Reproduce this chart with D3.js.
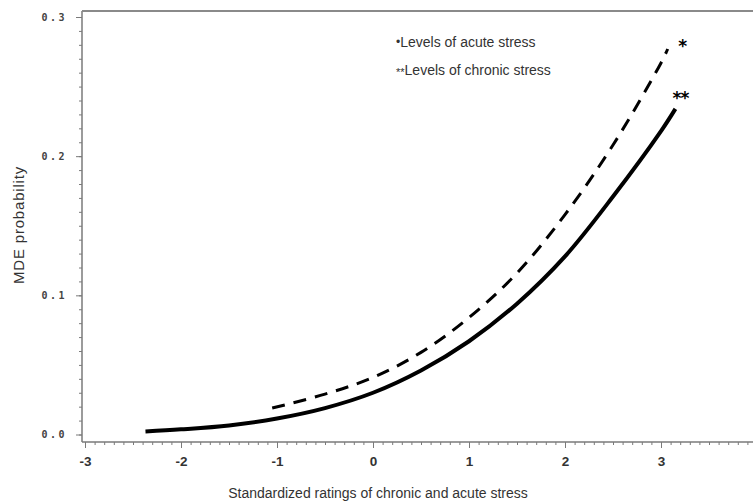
<!DOCTYPE html>
<html>
<head>
<meta charset="utf-8">
<script src="https://cdn.jsdelivr.net/npm/d3@7"></script>
<style>
  body { margin: 0; background: #fff; }
  svg { display: block; }
</style>
</head>
<body>
<div id="chart"></div>
<script>
// Values
const chronicX = [-2.37, -2.0, -1.5, -1.0, -0.5, 0.0, 0.5, 1.0, 1.5, 2.0, 2.5, 3.0, 3.15];
const chronicP = [0.0022, 0.0037, 0.0065, 0.0115, 0.019, 0.030, 0.046, 0.067, 0.094, 0.128, 0.171, 0.218, 0.234];
const acuteX = [-1.05, -0.5, 0.0, 0.5, 1.0, 1.5, 2.0, 2.5, 3.0, 3.07];
const acuteP = [0.019, 0.029, 0.041, 0.059, 0.084, 0.116, 0.158, 0.208, 0.267, 0.277];
const xTicks = [-3, -2, -1, 0, 1, 2, 3, 4];
const yTicks = [0.0, 0.1, 0.2, 0.3];
const legendLines = ["Levels of acute stress", "Levels of chronic stress"];

const width = 753;
const height = 504;
const plot = { left: 82, top: 11, right: 753, bottom: 442 };

const svg = d3.select("#chart")
    .append("svg")
    .attr("width", width)
    .attr("height", height);

const x = d3.scaleLinear().domain([-3, 4]).range([85, 757]);
const y = d3.scaleLinear().domain([0, 0.3]).range([434.5, 17]);

const axisColor = "#7a7a7a";

// frame: left, bottom and top lines
svg.append("line")
    .attr("x1", plot.left).attr("x2", plot.left)
    .attr("y1", plot.top).attr("y2", plot.bottom)
    .attr("stroke", axisColor).attr("stroke-width", 1.5);
svg.append("line")
    .attr("x1", plot.left).attr("x2", plot.right)
    .attr("y1", plot.bottom).attr("y2", plot.bottom)
    .attr("stroke", axisColor).attr("stroke-width", 1.5);
svg.append("line")
    .attr("x1", plot.left).attr("x2", plot.right)
    .attr("y1", plot.top).attr("y2", plot.top)
    .attr("stroke", "#8a8a8a").attr("stroke-width", 2);

// x axis: minor then major ticks
const xMinor = d3.range(-30, 41).map(d => d / 10);
svg.append("g")
    .attr("transform", `translate(0, ${plot.bottom})`)
    .call(d3.axisBottom(x).tickValues(xMinor).tickSize(3).tickFormat(""))
    .call(g => g.select(".domain").remove())
    .call(g => g.selectAll("line").attr("stroke", axisColor));

svg.append("g")
    .attr("transform", `translate(0, ${plot.bottom})`)
    .call(d3.axisBottom(x).tickValues(xTicks).tickSize(6).tickPadding(8)
        .tickFormat(d => d < 0 ? "-" + Math.abs(d) : d))
    .call(g => g.select(".domain").remove())
    .call(g => g.selectAll("line").attr("stroke", axisColor))
    .call(g => g.selectAll("text")
        .attr("fill", "#333")
        .attr("font-family", "Liberation Sans, Arial, sans-serif")
        .attr("font-weight", "bold")
        .attr("font-size", 13.5));

// y axis: minor then major ticks
const yMinor = d3.range(0, 31).map(d => d / 100);
svg.append("g")
    .attr("transform", `translate(${plot.left}, 0)`)
    .call(d3.axisLeft(y).tickValues(yMinor).tickSize(3).tickFormat(""))
    .call(g => g.select(".domain").remove())
    .call(g => g.selectAll("line").attr("stroke", axisColor));

svg.append("g")
    .attr("transform", `translate(${plot.left}, 0)`)
    .call(d3.axisLeft(y).tickValues(yTicks).tickSize(6).tickPadding(9)
        .tickFormat(d3.format(".1f")))
    .call(g => g.select(".domain").remove())
    .call(g => g.selectAll("line").attr("stroke", axisColor))
    .call(g => g.selectAll("text")
        .attr("fill", "#444")
        .attr("font-family", "DejaVu Sans Mono, monospace")
        .attr("font-weight", "bold")
        .attr("font-size", 10)
        .attr("letter-spacing", 2.5));

// axis titles
svg.append("text")
    .attr("x", 378)
    .attr("y", 498)
    .attr("text-anchor", "middle")
    .attr("fill", "#333")
    .attr("font-family", "Liberation Sans, Arial, sans-serif")
    .attr("font-size", 14)
    .text("Standardized ratings of chronic and acute stress");

svg.append("text")
    .attr("transform", "translate(24, 225) rotate(-90)")
    .attr("text-anchor", "middle")
    .attr("fill", "#333")
    .attr("font-family", "Liberation Sans, Arial, sans-serif")
    .attr("font-size", 15)
    .attr("letter-spacing", 0.8)
    .text("MDE probability");

// curves
const chronic = chronicX.map((v, i) => ({ x: v, p: chronicP[i] }));
const acute = acuteX.map((v, i) => ({ x: v, p: acuteP[i] }));

const line = d3.line()
    .x(d => x(d.x))
    .y(d => y(d.p))
    .curve(d3.curveCatmullRom.alpha(0.5));

svg.append("path")
    .datum(chronic)
    .attr("fill", "none")
    .attr("stroke", "#000")
    .attr("stroke-width", 4)
    .attr("d", line);

svg.append("path")
    .datum(acute)
    .attr("fill", "none")
    .attr("stroke", "#000")
    .attr("stroke-width", 3)
    .attr("stroke-dasharray", "13,9")
    .attr("d", line);

// end markers
const lastA = acute[acute.length - 1];
const lastC = chronic[chronic.length - 1];
svg.append("text")
    .attr("x", x(lastA.x) + 15)
    .attr("y", y(lastA.p) + 3)
    .attr("text-anchor", "middle")
    .attr("font-family", "DejaVu Sans, sans-serif")
    .attr("font-weight", "bold")
    .attr("font-size", 17)
    .text("*");
svg.append("text")
    .attr("x", x(lastC.x) + 5)
    .attr("y", y(lastC.p) - 5)
    .attr("text-anchor", "middle")
    .attr("font-family", "DejaVu Sans, sans-serif")
    .attr("font-weight", "bold")
    .attr("font-size", 17)
    .attr("letter-spacing", -1)
    .text("**");

// legend notes
const legend = svg.append("g")
    .attr("font-family", "Liberation Sans, Arial, sans-serif")
    .attr("font-size", 14)
    .attr("fill", "#333");

const l1 = legend.append("text").attr("x", 396).attr("y", 47);
l1.append("tspan").attr("font-size", 12).attr("dy", -1).text("•");
l1.append("tspan").attr("dy", 1).text(legendLines[0]);

const l2 = legend.append("text").attr("x", 396).attr("y", 75);
l2.append("tspan").attr("font-size", 11).attr("dy", 1).text("**");
l2.append("tspan").attr("dy", -1).text(legendLines[1]);
</script>
</body>
</html>
